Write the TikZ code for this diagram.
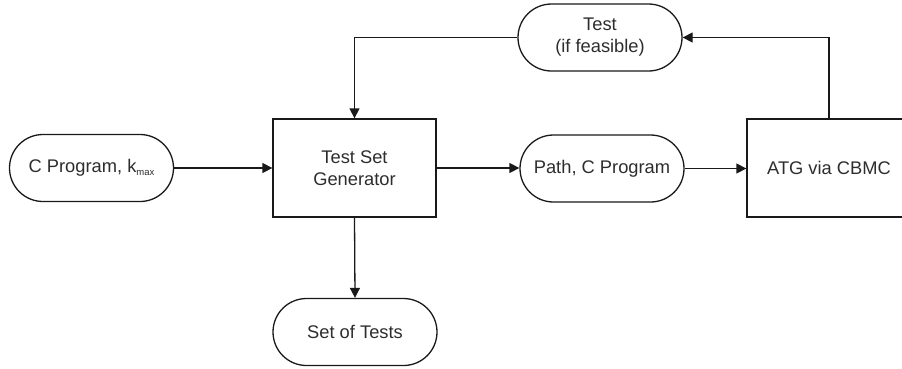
\documentclass[tikz,border=0pt]{standalone}
\usepackage{fontspec}
\setmainfont{Liberation Sans}
\usetikzlibrary{arrows.meta,shapes.misc}
\definecolor{inkline}{RGB}{25,25,25}
\definecolor{inktext}{RGB}{45,45,45}
\newcommand{\kmax}{k\raisebox{-2.5pt}{\fontsize{9.5pt}{10pt}\selectfont max}}
\begin{document}
\begin{tikzpicture}[x=1pt,y=-1pt,
  label text/.style={text=inktext, font=\fontsize{18.3pt}{22pt}\selectfont, align=center},
  pill/.style={rounded rectangle, draw=inkline, line width=1.3pt,
    minimum width=164pt, minimum height=67pt, inner sep=0pt, label text},
  block/.style={draw=inkline, line width=1.3pt,
    minimum width=163pt, minimum height=98pt, inner sep=0pt, label text},
  flow/.style={draw=inkline, line width=1.3pt, -{Triangle[length=10pt,width=10pt]}}]
  \useasboundingbox (0,0) rectangle (902,368);
  \clip (0,0) rectangle (902,368);

  % main row
  \node[pill]  (cprog) at (91.5,168) {C Program, \kmax};
  \node[block] (tsg)   at (354.5,168) {Test Set\\Generator};
  \node[pill]  (path)  at (602,168.5) {Path, C Program};
  \node[block, minimum width=164pt] (atg) at (829,168) {ATG via CBMC};

  % feedback and output
  \node[pill]  (test)  at (600,37.5) {Test\\(if feasible)};
  \node[pill]  (tests) at (355,332) {Set of Tests};

  % connectors
  \draw[flow] (cprog.east) -- (cprog.east -| tsg.west);
  \draw[flow] (tsg.east) -- (tsg.east -| path.west);
  \draw[flow] (path.east) -- (path.east -| atg.west);
  \draw[flow] (atg.north) -- (atg.north |- test.east) -- (test.east);
  \draw[flow] (test.west) -- (tsg.north |- test.west) -- (tsg.north);
  \draw[flow] (tsg.south) -- (tests.north);
\end{tikzpicture}
\end{document}
